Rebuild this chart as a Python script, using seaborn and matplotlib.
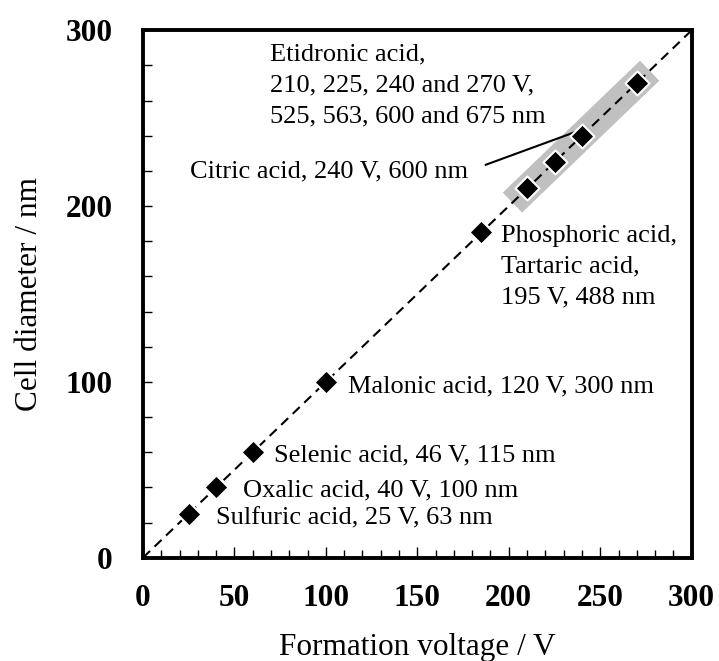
import matplotlib
matplotlib.use("Agg")
import matplotlib.pyplot as plt
import seaborn as sns
import pandas as pd
from matplotlib.ticker import MultipleLocator

# ---- data ----
voltage = [25, 40, 60, 100, 185, 210, 225, 240, 270]
diameter = [25, 40, 60, 100, 185, 210, 225, 240, 270]
fit_x = [0, 300]
fit_y = [0, 300]
band_x = [202, 277]
band_y = [202, 277]
x_ticks = [0, 50, 100, 150, 200, 250, 300]
y_ticks = [0, 100, 200, 300]

etidronic_lines = ["Etidronic acid,", "210, 225, 240 and 270 V,", "525, 563, 600 and 675 nm"]
phosphoric_lines = ["Phosphoric acid,", "Tartaric acid,", "195 V, 488 nm"]
citric_label = "Citric acid, 240 V, 600 nm"
malonic_label = "Malonic acid, 120 V, 300 nm"
selenic_label = "Selenic acid, 46 V, 115 nm"
oxalic_label = "Oxalic acid, 40 V, 100 nm"
sulfuric_label = "Sulfuric acid, 25 V, 63 nm"

sns.set_theme(style="white")
plt.rcParams["font.family"] = ["Liberation Serif", "DejaVu Serif"]
plt.rcParams["lines.scale_dashes"] = False
plt.rcParams["text.color"] = "black"
plt.rcParams["axes.labelcolor"] = "black"
plt.rcParams["xtick.color"] = "black"
plt.rcParams["ytick.color"] = "black"

df = pd.DataFrame({"voltage": voltage, "diameter": diameter})

fig = plt.figure(figsize=(7.19, 6.61), dpi=100)
ax = fig.add_axes([0.1989, 0.1563, 0.7631, 0.7979])

# grey highlight band
ax.plot(band_x, band_y, lw=20, color="#c0c0c0", solid_capstyle="butt", zorder=1)
# dashed guide line
sns.lineplot(x=fit_x, y=fit_y, ax=ax, color="black", lw=1.5, zorder=2)
ax.lines[-1].set_dashes((7, 4.5))
# points
sns.scatterplot(data=df, x="voltage", y="diameter", ax=ax, marker="D", s=150,
                color="black", edgecolor="white", linewidth=1.5, zorder=4)

ax.set_xlim(0, 300)
ax.set_ylim(0, 300)
ax.set_xticks(x_ticks)
ax.set_yticks(y_ticks)
ax.xaxis.set_minor_locator(MultipleLocator(10))
ax.yaxis.set_minor_locator(MultipleLocator(20))
for sp in ax.spines.values():
    sp.set_visible(True)
    sp.set_color("black")
    sp.set_linewidth(2.8)
ax.tick_params(axis="x", which="major", direction="in", length=8, width=1.0,
               color="black", bottom=True, top=False, pad=19)
ax.tick_params(axis="x", which="minor", direction="in", length=6, width=1.0,
               color="black", bottom=True, top=False)
ax.tick_params(axis="y", which="both", direction="in", length=6.5, width=1.0,
               color="black", left=True, right=False)
ax.tick_params(axis="y", which="major", pad=22)
for lab in ax.get_xticklabels() + ax.get_yticklabels():
    lab.set_fontsize(22.5)
    lab.set_fontweight("bold")
    lab.set_color("black")

ax.set_xlabel("Formation voltage / V", fontsize=22.5, color="black")
ax.set_ylabel("Cell diameter / nm", fontsize=22.5, color="black")
ax.xaxis.set_label_coords(0.5, -0.142)
ax.yaxis.set_label_coords(-0.180, 0.5)
ax.set_facecolor("white")
ax.grid(False)

fs = 19
def lines_text(lines, x, y):
    for i, t in enumerate(lines):
        ax.annotate(t, xy=(x, y), xytext=(0, -22.3 * i), textcoords="offset points",
                    ha="left", va="baseline", fontsize=fs, color="black")

lines_text(etidronic_lines, 69.4, 283)
lines_text(phosphoric_lines, 196, 179.7)
ax.text(25.7, 216.5, citric_label, ha="left", va="baseline", fontsize=fs, color="black")
ax.text(112, 93.8, malonic_label, ha="left", va="baseline", fontsize=fs, color="black")
ax.text(71.6, 54.7, selenic_label, ha="left", va="baseline", fontsize=fs, color="black")
ax.text(54.6, 34.8, oxalic_label, ha="left", va="baseline", fontsize=fs, color="black")
ax.text(39.9, 18.75, sulfuric_label, ha="left", va="baseline", fontsize=fs, color="black")
# leader line for citric acid
ax.plot([186.9, 236], [223.3, 242], color="black", lw=1.5, zorder=3,
        solid_capstyle="butt")

fig.savefig("out.png", dpi=100, facecolor="white")
